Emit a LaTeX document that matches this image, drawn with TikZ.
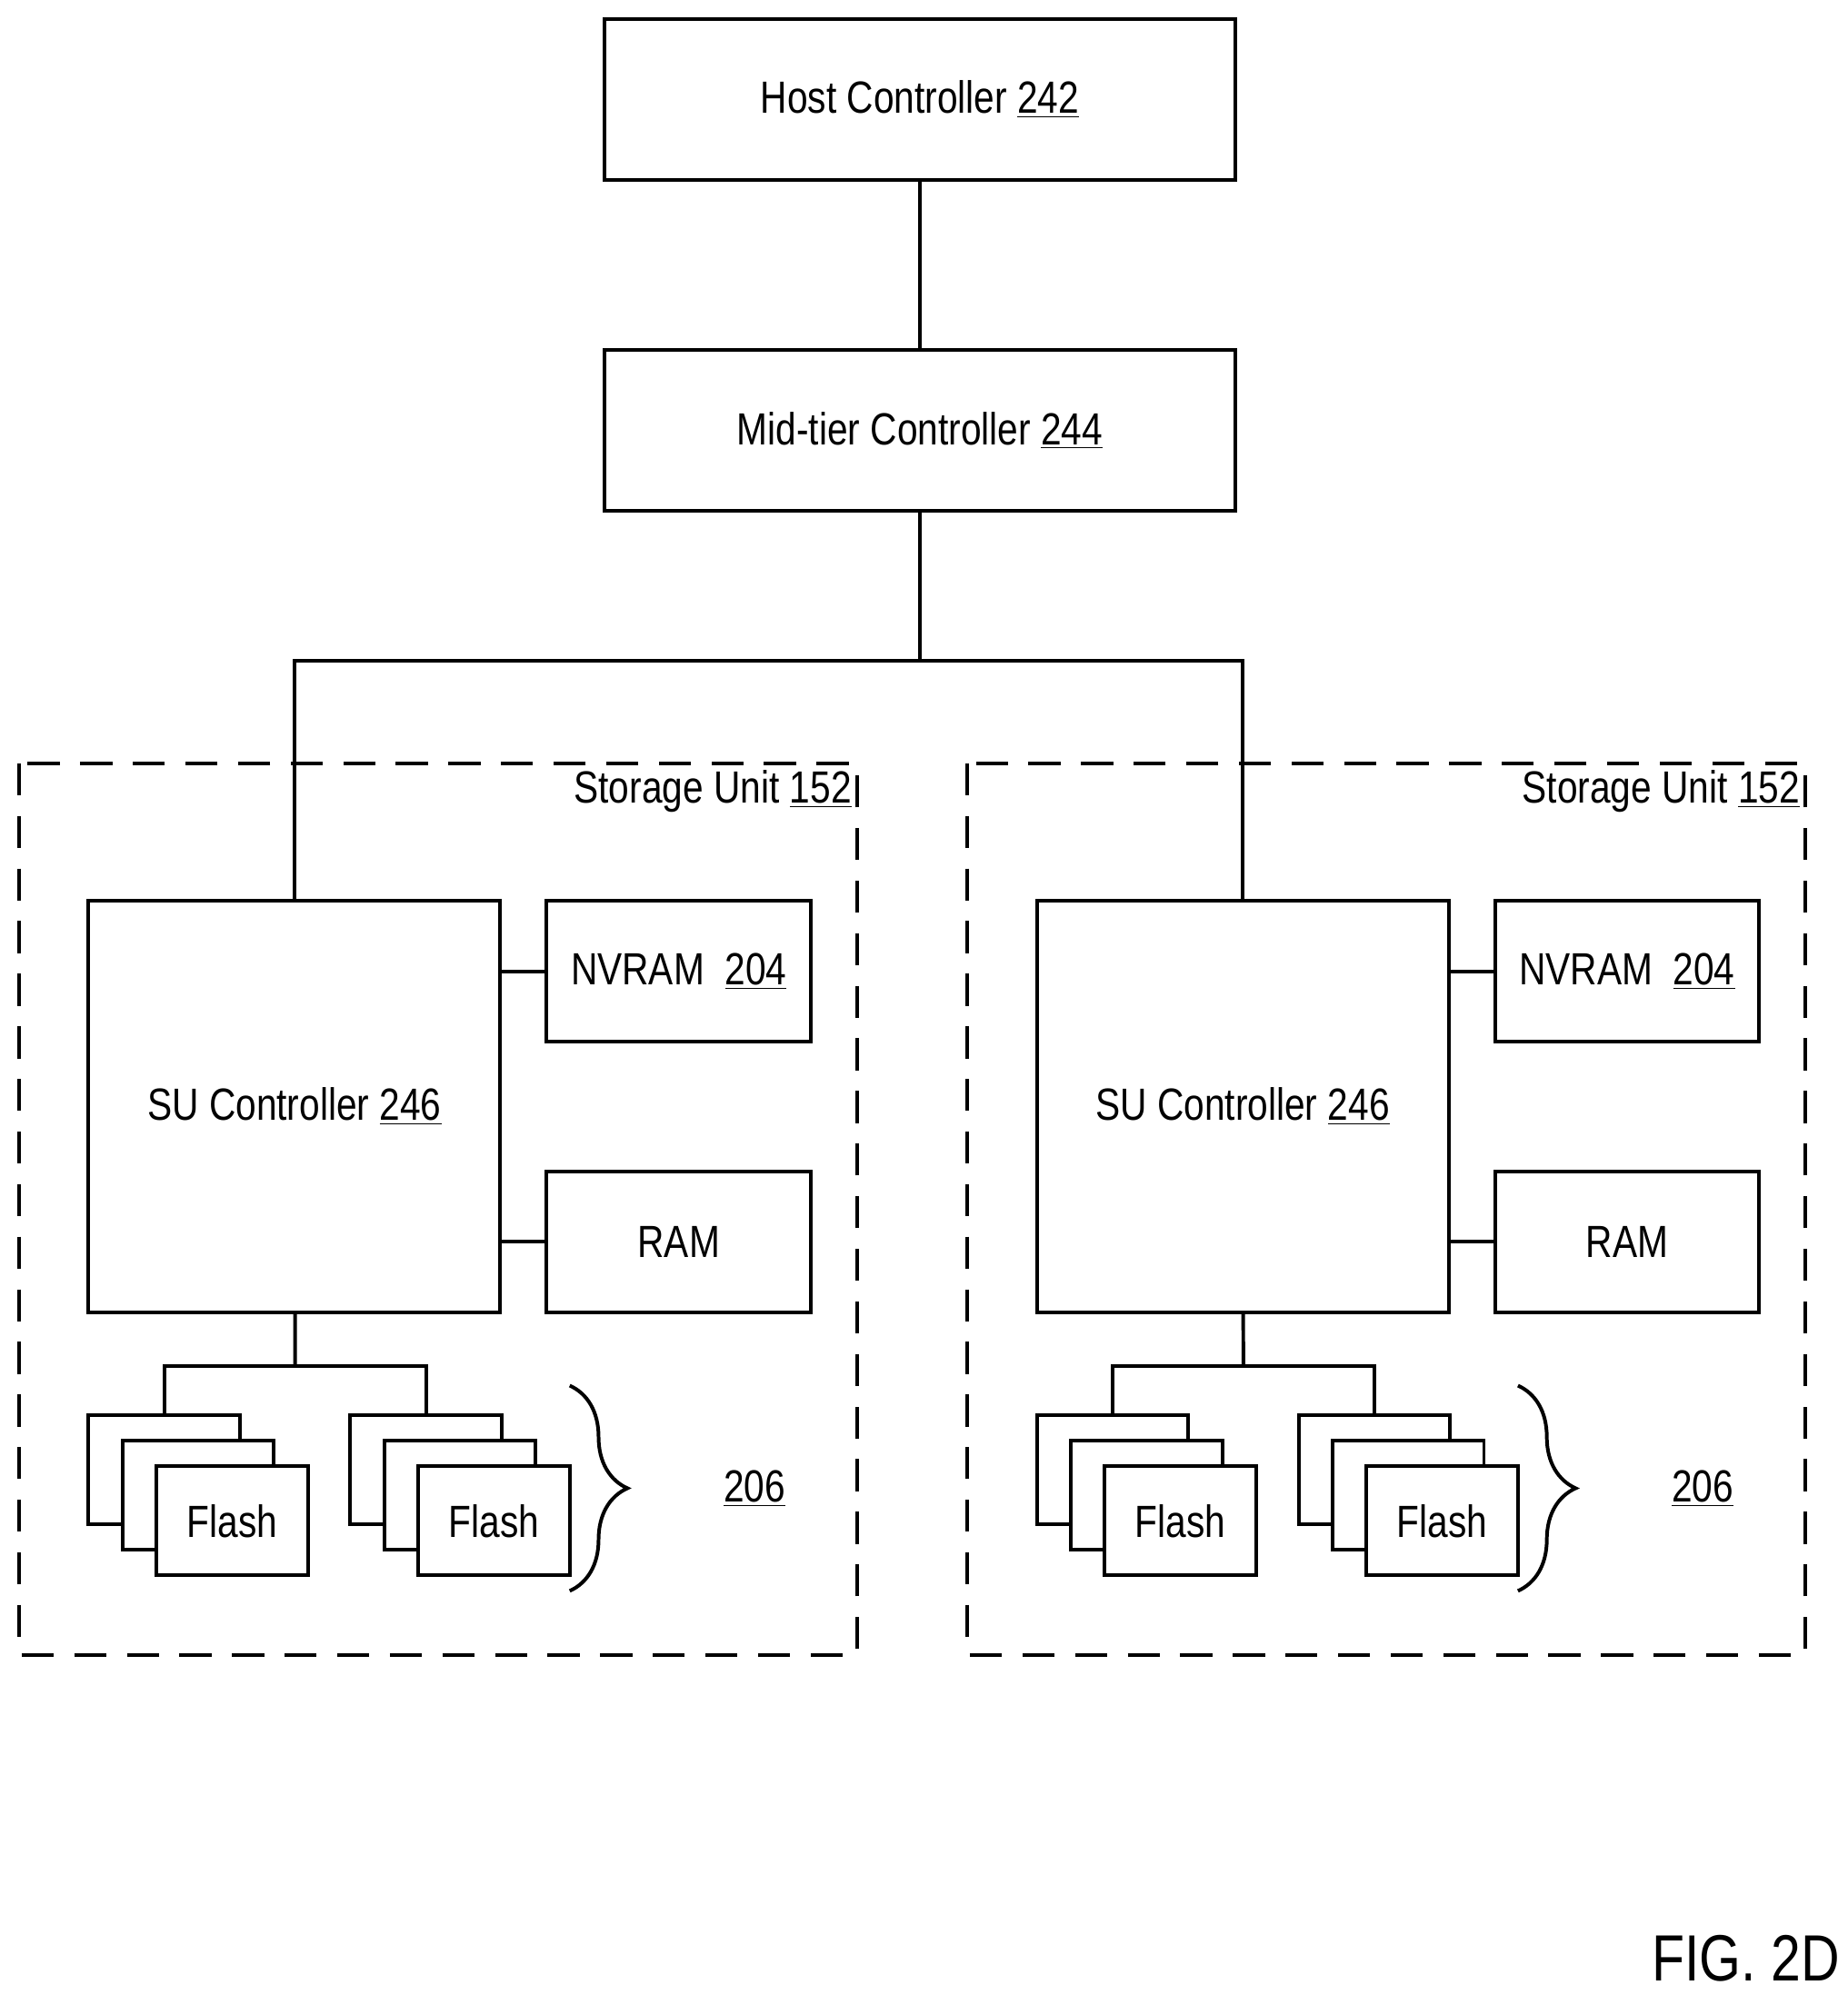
\documentclass[tikz,border=0pt]{standalone}
\usepackage{fontspec}
\setmainfont[FakeStretch=0.82]{Liberation Sans}
\usetikzlibrary{positioning, calc, decorations.pathreplacing}

\tikzset{
  box/.style={draw, line width=1.6pt, font=\fontsize{20}{24}\selectfont},
  flash/.style={box, fill=white, minimum width=2.36cm, minimum height=1.7cm},
  unit/.style={line width=1.6pt, dash pattern=on 0.5cm off 0.32cm},
  wire/.style={line width=1.6pt}
}

\begin{document}
\begin{tikzpicture}[x=0.02cm, y=-0.02cm]
    \useasboundingbox (0,0) rectangle (1440,1555);
    \node[box, minimum width=9.84cm, minimum height=2.5cm] (Host) at (717,77.5) {Host Controller \underline{242}};
    \node[box, minimum width=9.84cm, minimum height=2.5cm] (Mid) at (717,335.5) {Mid-tier Controller \underline{244}};
    \coordinate (bus) at (717,515);
    \draw[wire] (Host) -- (Mid);
    \draw[wire] (Mid) -- (bus);

    \foreach \s/\d in {0/L,739/R}{
      % storage unit
      \draw[unit] (15+\s,595) rectangle (668+\s,1290);
      \node[anchor=north east, inner sep=0pt, font=\fontsize{20}{24}\selectfont] (Lbl\d) at (664+\s,600) {Storage Unit \underline{152}};
      \node[box, minimum width=6.42cm, minimum height=6.42cm] (Su\d) at (229.5+\s,862.5) {SU Controller \underline{246}};
      \node[box, minimum width=4.12cm, minimum height=2.2cm] (Nv\d) at (529+\s,757) {NVRAM\ \ \underline{204}};
      \node[box, minimum width=4.12cm, minimum height=2.2cm] (Ram\d) at (529+\s,968) {RAM};
      \draw[wire] (Su\d.east |- Nv\d) -- (Nv\d);
      \draw[wire] (Su\d.east |- Ram\d) -- (Ram\d);
      % flash stacks
      \node[flash] (Fa\d) at (128+\s,1145.5) {};
      \node[flash] at (154.5+\s,1165.5) {};
      \node[flash] (Fa3\d) at (181+\s,1185.5) {Flash};
      \node[flash] (Fb\d) at (332+\s,1145.5) {};
      \node[flash] at (358.5+\s,1165.5) {};
      \node[flash] (Fb3\d) at (385+\s,1185.5) {Flash};
      \coordinate (fj\d) at (230+\s,1065);
      \draw[wire] (Su\d) -- (fj\d);
      \draw[wire] (Fa\d.north) |- (fj\d) -| (Fb\d.north);
      \draw[wire, decorate, decoration={brace, amplitude=0.9cm}] (444+\s,1080) -- (444+\s,1240);
      \node[font=\fontsize{20}{24}\selectfont] (Num\d) at (588+\s,1160) {\underline{206}};
    }
    \draw[wire] (SuL.north) |- (bus) -| (SuR.north);

    \node[anchor=south east, inner sep=0pt, font=\fontsize{29}{34}\selectfont] (Fig) at (1434,1545) {FIG. 2D};
\end{tikzpicture}
\end{document}
